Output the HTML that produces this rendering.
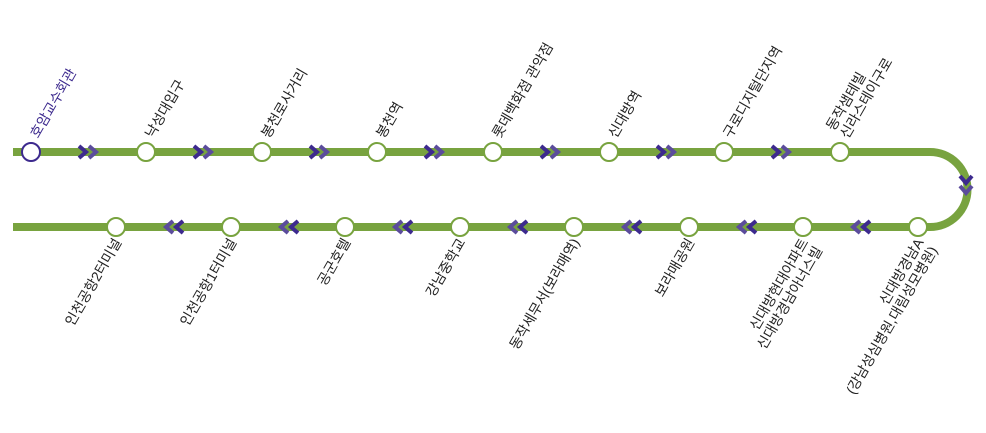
<!DOCTYPE html>
<html><head><meta charset="utf-8"><style>
html,body{margin:0;padding:0;background:#fff;}
svg{display:block;}
text{font-family:"Liberation Sans","Noto Sans CJK KR",sans-serif;font-size:14px;fill:#222;}
</style></head><body>
<svg width="986" height="433" viewBox="0 0 986 433" xmlns="http://www.w3.org/2000/svg">
<defs>
<g id="rr"><polyline points="-11,-6 -4,0 -11,6" fill="none" stroke="#3d2a8e" stroke-width="4"/><polyline points="-1,-6 6,0 -1,6" fill="none" stroke="#5b4c9c" stroke-width="4"/></g>
<g id="ll"><polyline points="11,-6 4,0 11,6" fill="none" stroke="#3d2a8e" stroke-width="4"/><polyline points="1,-6 -6,0 1,6" fill="none" stroke="#5b4c9c" stroke-width="4"/></g>
</defs>
<path d="M13,152 H930 A37.5,37.5 0 0 1 930,227 H13" fill="none" stroke="#78a33f" stroke-width="8"/>
<use href="#rr" x="90" y="152"/><use href="#rr" x="205" y="152"/><use href="#rr" x="321" y="152"/><use href="#rr" x="436" y="152"/><use href="#rr" x="552" y="152"/><use href="#rr" x="668" y="152"/><use href="#rr" x="783" y="152"/>
<g transform="translate(966,187) rotate(90)"><use href="#rr"/></g>
<use href="#ll" x="859" y="227"/><use href="#ll" x="745" y="227"/><use href="#ll" x="630" y="227"/><use href="#ll" x="516" y="227"/><use href="#ll" x="401" y="227"/><use href="#ll" x="287" y="227"/><use href="#ll" x="172" y="227"/>
<g fill="#fff" stroke="#78a33f" stroke-width="2">
<circle cx="31" cy="152" r="9" stroke="#3d2a8e"/>
<circle cx="146" cy="152" r="9"/><circle cx="262" cy="152" r="9"/><circle cx="377" cy="152" r="9"/><circle cx="493" cy="152" r="9"/><circle cx="609" cy="152" r="9"/><circle cx="724" cy="152" r="9"/><circle cx="840" cy="152" r="9"/>
<circle cx="918" cy="227" r="9"/><circle cx="803" cy="227" r="9"/><circle cx="689" cy="227" r="9"/><circle cx="574" cy="227" r="9"/><circle cx="460" cy="227" r="9"/><circle cx="345" cy="227" r="9"/><circle cx="231" cy="227" r="9"/><circle cx="116" cy="227" r="9"/>
</g>
<text transform="translate(38,139) rotate(-60)" style="fill:#3d2a8e">호암교수회관</text>
<text transform="translate(153,139) rotate(-60)">낙성대입구</text>
<text transform="translate(269,139) rotate(-60)">봉천로사거리</text>
<text transform="translate(384,139) rotate(-60)">봉천역</text>
<text transform="translate(500,139) rotate(-60)">롯데백화점 관악점</text>
<text transform="translate(616,139) rotate(-60)">신대방역</text>
<text transform="translate(731,139) rotate(-60)">구로디지털단지역</text>
<text transform="translate(847,139) rotate(-60)"><tspan x="0" dy="-15">동작샘테빌</tspan><tspan x="0" dy="16">신라스테이구로</tspan></text>
<g text-anchor="end">
<text transform="translate(122,242) rotate(-60)">인천공항2터미널</text>
<text transform="translate(237,242) rotate(-60)">인천공항1터미널</text>
<text transform="translate(351,242) rotate(-60)">공군호텔</text>
<text transform="translate(466,242) rotate(-60)">강남중학교</text>
<text transform="translate(580,242) rotate(-60)">동작세무서(보라매역)</text>
<text transform="translate(695,242) rotate(-60)">보라매공원</text>
<text transform="translate(809,242) rotate(-60)"><tspan x="0" dy="0">신대방현대아파트</tspan><tspan x="0" dy="16">신대방경남아너스빌</tspan></text>
<text transform="translate(924,242) rotate(-60)"><tspan x="0" dy="0">신대방경남A</tspan><tspan x="0" dy="16">(강남성심병원,대림성모병원)</tspan></text>
</g>
</svg>
</body></html>
